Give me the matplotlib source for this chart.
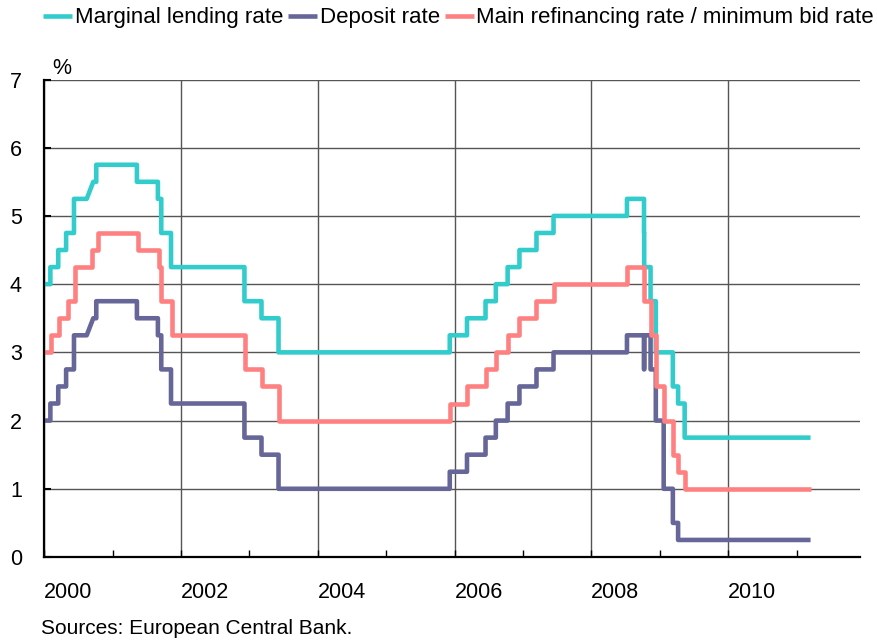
#!/usr/bin/env python3
"""ECB key interest rates, 2000-2011, as a step chart."""

import matplotlib

matplotlib.use("Agg")
import matplotlib.pyplot as plt
import matplotlib.transforms as mtransforms
import pandas as pd

END = "2011-03-16"

# effective date of each change and the new level (%)
mlf_dates = ["2000-01-01", "2000-02-04", "2000-03-17", "2000-04-28", "2000-06-09", "2000-09-01",
             "2000-10-06", "2001-05-11", "2001-08-31", "2001-09-18", "2001-11-09", "2002-12-06",
             "2003-03-07", "2003-06-06", "2005-12-06", "2006-03-08", "2006-06-15", "2006-08-09",
             "2006-10-11", "2006-12-13", "2007-03-14", "2007-06-13", "2008-07-09", "2008-10-08",
             "2008-10-09", "2008-11-12", "2008-12-10", "2009-03-11", "2009-04-08", "2009-05-13"]
mlf_rates = [4.00, 4.25, 4.50, 4.75, 5.25, 5.50, 5.75, 5.50, 5.25, 4.75, 4.25, 3.75, 3.50, 3.00, 3.25,
             3.50, 3.75, 4.00, 4.25, 4.50, 4.75, 5.00, 5.25, 4.75, 4.25, 3.75, 3.00, 2.50, 2.25, 1.75]

df_dates = ["2000-01-01", "2000-02-04", "2000-03-17", "2000-04-28", "2000-06-09", "2000-09-01",
            "2000-10-06", "2001-05-11", "2001-08-31", "2001-09-18", "2001-11-09", "2002-12-06",
            "2003-03-07", "2003-06-06", "2005-12-06", "2006-03-08", "2006-06-15", "2006-08-09",
            "2006-10-11", "2006-12-13", "2007-03-14", "2007-06-13", "2008-07-09", "2008-10-08",
            "2008-10-09", "2008-11-12", "2008-12-10", "2009-01-21", "2009-03-11", "2009-04-08"]
df_rates = [2.00, 2.25, 2.50, 2.75, 3.25, 3.50, 3.75, 3.50, 3.25, 2.75, 2.25, 1.75, 1.50, 1.00, 1.25,
            1.50, 1.75, 2.00, 2.25, 2.50, 2.75, 3.00, 3.25, 2.75, 3.25, 2.75, 2.00, 1.00, 0.50, 0.25]

mro_dates = ["2000-01-01", "2000-02-09", "2000-03-22", "2000-05-10", "2000-06-15", "2000-09-12",
             "2000-10-17", "2001-05-17", "2001-09-05", "2001-09-19", "2001-11-14", "2002-12-11",
             "2003-03-12", "2003-06-09", "2005-12-06", "2006-03-08", "2006-06-15", "2006-08-09",
             "2006-10-11", "2006-12-13", "2007-03-14", "2007-06-13", "2008-07-09", "2008-10-08",
             "2008-11-12", "2008-12-10", "2009-01-21", "2009-03-11", "2009-04-08", "2009-05-13"]
mro_rates = [3.00, 3.25, 3.50, 3.75, 4.25, 4.50, 4.75, 4.50, 4.25, 3.75, 3.25, 2.75, 2.50, 2.00, 2.25,
             2.50, 2.75, 3.00, 3.25, 3.50, 3.75, 4.00, 4.25, 3.75, 3.25, 2.50, 2.00, 1.50, 1.25, 1.00]

# stretch with no observations in the corridor series (drawn as a straight join)
corridor_gap = ("2000-08-16", "2000-09-20")

labels = ["Marginal lending rate", "Deposit rate", "Main refinancing rate / minimum bid rate"]
colors = ["#33CCCC", "#666699", "#FF8080"]
year_labels = [2000, 2002, 2004, 2006, 2008, 2010]
minor_years = [2001, 2003, 2005, 2007, 2009, 2011]

FONT = "Liberation Sans"
FS = 15.5


def step_path(dates, rates, end, gap=None):
    days = pd.to_datetime(dates)
    xs, ys = [], []
    for i, (day, rate) in enumerate(zip(days, rates)):
        if i:
            xs.append(day)
            ys.append(rates[i - 1])
        xs.append(day)
        ys.append(rate)
    xs.append(pd.Timestamp(end))
    ys.append(rates[-1])
    if gap is None:
        return xs, ys
    g0, g1 = pd.Timestamp(gap[0]), pd.Timestamp(gap[1])
    level = pd.Series(rates, index=days)
    before = [(x, y) for x, y in zip(xs, ys) if x < g0]
    after = [(x, y) for x, y in zip(xs, ys) if x > g1]
    pts = before + [(g0, level[:g0].iloc[-1]), (g1, level[:g1].iloc[-1])] + after
    return [p[0] for p in pts], [p[1] for p in pts]


def main():
    plt.rcParams["font.family"] = [FONT, "DejaVu Sans"]
    plt.rcParams["xtick.labelsize"] = FS
    plt.rcParams["ytick.labelsize"] = FS
    fig = plt.figure(figsize=(8.77, 6.43), dpi=100)
    ax = fig.add_axes([44 / 877, 86 / 643, 816 / 877, 477.5 / 643])

    series = [
        step_path(mlf_dates, mlf_rates, END, corridor_gap),
        step_path(df_dates, df_rates, END, corridor_gap),
        step_path(mro_dates, mro_rates, END),
    ]
    for (xs, ys), label, color in zip(series, labels, colors):
        ax.plot(xs, ys, color=color, lw=3.3, label=label, solid_capstyle="butt", zorder=3)

    ax.set_xlim(pd.Timestamp("2000-01-01"), pd.Timestamp("2011-12-05"))
    ax.set_ylim(0, 7)
    ax.set_yticks(range(0, 8))
    ax.set_yticklabels([str(v) for v in range(0, 8)], fontsize=FS)
    ax.set_xticks([pd.Timestamp(f"{y}-01-01") for y in year_labels])
    ax.set_xticks([pd.Timestamp(f"{y}-01-01") for y in minor_years], minor=True)
    ax.set_xticklabels([str(y) for y in year_labels], ha="left", fontsize=FS)
    shift = mtransforms.ScaledTranslation(-3 / 72, 0, fig.dpi_scale_trans)
    for lab in ax.get_xticklabels():
        lab.set_transform(lab.get_transform() + shift)

    ax.tick_params(axis="both", which="both", direction="in", color="black")
    ax.tick_params(axis="x", which="major", length=5, width=1, pad=18)
    ax.tick_params(axis="x", which="minor", length=5, width=1)
    ax.tick_params(axis="y", length=5, width=1.5, pad=16)

    ax.grid(axis="x", which="major", color="#555555", lw=1.0)
    ax.grid(axis="y", color="#555555", lw=1.0)
    ax.set_axisbelow(True)
    for side in ("top", "right"):
        ax.spines[side].set_visible(False)
    for side in ("left", "bottom"):
        ax.spines[side].set_linewidth(1.6)
        ax.spines[side].set_zorder(4)

    fig.text(52 / 877, 1 - 68 / 643, "%", fontsize=FS, va="center", ha="left")
    fig.text(41 / 877, 1 - 628 / 643, "Sources: European Central Bank.", fontsize=15, va="center", ha="left")

    fig.legend(loc="center right", bbox_to_anchor=(874 / 877, 1 - 18 / 643), ncol=3, frameon=False,
               fontsize=16, handlelength=1.3, handletextpad=0.1, columnspacing=0.25,
               borderpad=0, borderaxespad=0)

    fig.savefig("out.png", dpi=100)
    plt.close(fig)


if __name__ == "__main__":
    main()
